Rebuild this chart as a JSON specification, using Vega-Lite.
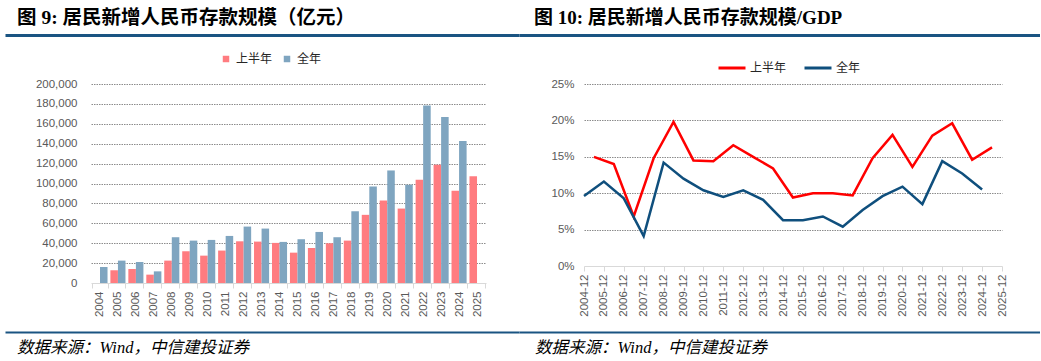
{
  "$schema": "https://vega.github.io/schema/vega-lite/v6.json",
  "padding": {"left": -1, "top": 7, "right": 0, "bottom": 0},
  "background": "white",
  "columns": 2,
  "align": "none",
  "spacing": {"row": 14, "column": 0},
  "resolve": {"scale": {"color": "independent", "x": "independent"}, "legend": {"color": "independent"}},
  "config": {
    "view": {"stroke": null},
    "font": "Liberation Sans",
    "axis": {"labelFont": "Liberation Sans", "labelFontSize": 11.5, "labelColor": "#595959"},
    "legend": {"labelFont": "Noto Sans CJK SC", "labelFontSize": 12, "labelColor": "#262626"}
  },
  "datasets": {
    "bars": [
      {"year": "2004", "series": "全年", "value": 16100},
      {"year": "2005", "series": "上半年", "value": 12800},
      {"year": "2005", "series": "全年", "value": 22500},
      {"year": "2006", "series": "上半年", "value": 14100},
      {"year": "2006", "series": "全年", "value": 21100},
      {"year": "2007", "series": "上半年", "value": 8400},
      {"year": "2007", "series": "全年", "value": 11700},
      {"year": "2008", "series": "上半年", "value": 22500},
      {"year": "2008", "series": "全年", "value": 46000},
      {"year": "2009", "series": "上半年", "value": 31900},
      {"year": "2009", "series": "全年", "value": 42600},
      {"year": "2010", "series": "上半年", "value": 27500},
      {"year": "2010", "series": "全年", "value": 43300},
      {"year": "2011", "series": "上半年", "value": 32600},
      {"year": "2011", "series": "全年", "value": 47300},
      {"year": "2012", "series": "上半年", "value": 41900},
      {"year": "2012", "series": "全年", "value": 56700},
      {"year": "2013", "series": "上半年", "value": 41600},
      {"year": "2013", "series": "全年", "value": 54700},
      {"year": "2014", "series": "上半年", "value": 40300},
      {"year": "2014", "series": "全年", "value": 41300},
      {"year": "2015", "series": "上半年", "value": 30500},
      {"year": "2015", "series": "全年", "value": 44000},
      {"year": "2016", "series": "上半年", "value": 35200},
      {"year": "2016", "series": "全年", "value": 51300},
      {"year": "2017", "series": "上半年", "value": 39900},
      {"year": "2017", "series": "全年", "value": 46000},
      {"year": "2018", "series": "上半年", "value": 42600},
      {"year": "2018", "series": "全年", "value": 72100},
      {"year": "2019", "series": "上半年", "value": 68500},
      {"year": "2019", "series": "全年", "value": 97000},
      {"year": "2020", "series": "上半年", "value": 82900},
      {"year": "2020", "series": "全年", "value": 113100},
      {"year": "2021", "series": "上半年", "value": 74800},
      {"year": "2021", "series": "全年", "value": 98700},
      {"year": "2022", "series": "上半年", "value": 103700},
      {"year": "2022", "series": "全年", "value": 178500},
      {"year": "2023", "series": "上半年", "value": 118800},
      {"year": "2023", "series": "全年", "value": 166800},
      {"year": "2024", "series": "上半年", "value": 92600},
      {"year": "2024", "series": "全年", "value": 142600},
      {"year": "2025", "series": "上半年", "value": 107400}
    ],
    "lines": [
      {"date": "2005-06-01", "series": "上半年", "value": 0.150},
      {"date": "2006-06-01", "series": "上半年", "value": 0.140},
      {"date": "2007-06-01", "series": "上半年", "value": 0.068},
      {"date": "2008-06-01", "series": "上半年", "value": 0.148},
      {"date": "2009-06-01", "series": "上半年", "value": 0.198},
      {"date": "2010-06-01", "series": "上半年", "value": 0.145},
      {"date": "2011-06-01", "series": "上半年", "value": 0.144},
      {"date": "2012-06-01", "series": "上半年", "value": 0.166},
      {"date": "2013-06-01", "series": "上半年", "value": 0.150},
      {"date": "2014-06-01", "series": "上半年", "value": 0.134},
      {"date": "2015-06-01", "series": "上半年", "value": 0.094},
      {"date": "2016-06-01", "series": "上半年", "value": 0.100},
      {"date": "2017-06-01", "series": "上半年", "value": 0.100},
      {"date": "2018-06-01", "series": "上半年", "value": 0.097},
      {"date": "2019-06-01", "series": "上半年", "value": 0.148},
      {"date": "2020-06-01", "series": "上半年", "value": 0.180},
      {"date": "2021-06-01", "series": "上半年", "value": 0.136},
      {"date": "2022-06-01", "series": "上半年", "value": 0.179},
      {"date": "2023-06-01", "series": "上半年", "value": 0.196},
      {"date": "2024-06-01", "series": "上半年", "value": 0.146},
      {"date": "2025-06-01", "series": "上半年", "value": 0.163},
      {"date": "2004-12-01", "series": "全年", "value": 0.096},
      {"date": "2005-12-01", "series": "全年", "value": 0.116},
      {"date": "2006-12-01", "series": "全年", "value": 0.093},
      {"date": "2007-12-01", "series": "全年", "value": 0.041},
      {"date": "2008-12-01", "series": "全年", "value": 0.142},
      {"date": "2009-12-01", "series": "全年", "value": 0.120},
      {"date": "2010-12-01", "series": "全年", "value": 0.104},
      {"date": "2011-12-01", "series": "全年", "value": 0.095},
      {"date": "2012-12-01", "series": "全年", "value": 0.104},
      {"date": "2013-12-01", "series": "全年", "value": 0.091},
      {"date": "2014-12-01", "series": "全年", "value": 0.063},
      {"date": "2015-12-01", "series": "全年", "value": 0.063},
      {"date": "2016-12-01", "series": "全年", "value": 0.068},
      {"date": "2017-12-01", "series": "全年", "value": 0.054},
      {"date": "2018-12-01", "series": "全年", "value": 0.077},
      {"date": "2019-12-01", "series": "全年", "value": 0.096},
      {"date": "2020-12-01", "series": "全年", "value": 0.109},
      {"date": "2021-12-01", "series": "全年", "value": 0.085},
      {"date": "2022-12-01", "series": "全年", "value": 0.144},
      {"date": "2023-12-01", "series": "全年", "value": 0.127},
      {"date": "2024-12-01", "series": "全年", "value": 0.105}
    ]
  },
  "concat": [
    {
      "width": 514, "height": 1,
      "title": {"text": "图 9: 居民新增人民币存款规模（亿元）", "anchor": "start", "dx": 12, "offset": -12, "baseline": "bottom", "font": "Liberation Serif, Noto Sans CJK SC", "fontSize": 19.5, "fontWeight": "bold", "color": "#000000"},
      "data": {"values": []},
      "mark": "point",
      "encoding": {
        "x": {"field": "v", "type": "quantitative", "scale": {"domain": [0, 1], "range": [0, 514]}, "axis": {"orient": "top", "title": null, "labels": false, "ticks": false, "grid": false, "domain": true, "domainColor": "#1A5482", "domainWidth": 3}}
      }
    },
    {
      "width": 521, "height": 1,
      "title": {"text": "图 10: 居民新增人民币存款规模/GDP", "anchor": "start", "dx": 15, "offset": -12, "baseline": "bottom", "font": "Liberation Serif, Noto Sans CJK SC", "fontSize": 19, "fontWeight": "bold", "color": "#000000"},
      "data": {"values": []},
      "mark": "point",
      "encoding": {
        "x": {"field": "v", "type": "quantitative", "scale": {"domain": [0, 1], "range": [0, 521]}, "axis": {"orient": "top", "title": null, "labels": false, "ticks": false, "grid": false, "domain": true, "domainColor": "#1A5482", "domainWidth": 3}}
      }
    },
    {
      "width": 481, "height": 199,
      "data": {"name": "bars"},
      "mark": {"type": "bar"},
      "encoding": {
        "x": {
          "field": "year", "type": "nominal",
          "scale": {"paddingInner": 0.16, "paddingOuter": 0.08, "range": [86, 481]},
          "axis": {"title": null, "labelAngle": -90, "tickBand": "extent", "ticks": true, "tickSize": 5, "tickColor": "#d9d9d9", "domainColor": "#d9d9d9", "labelPadding": 3, "minExtent": 34}
        },
        "xOffset": {"field": "series", "type": "nominal", "scale": {"domain": ["上半年", "全年"], "paddingInner": 0}},
        "y": {
          "field": "value", "type": "quantitative",
          "scale": {"domain": [0, 200000]},
          "axis": {"title": null, "offset": -86, "values": [0, 20000, 40000, 60000, 80000, 100000, 120000, 140000, 160000, 180000, 200000], "format": ",d", "domain": false, "ticks": false, "labelPadding": 14, "minExtent": 0, "maxExtent": 0, "grid": true, "gridDash": [1.5, 1], "gridColor": "#8c8c8c", "gridOpacity": {"condition": {"test": "datum.value === 0", "value": 0}, "value": 1}}
        },
        "color": {
          "field": "series", "type": "nominal",
          "scale": {"domain": ["上半年", "全年"], "range": ["#FF7C80", "#7FA5C0"]},
          "legend": {"title": null, "orient": "none", "direction": "horizontal", "legendX": 212, "legendY": -34, "padding": 3, "symbolType": "square", "symbolSize": 42, "symbolStrokeWidth": 0, "labelOffset": 4, "columnPadding": 8}
        }
      }
    },
    {
      "width": 418, "height": 182,
      "data": {"name": "lines"},
      "mark": {"type": "line", "strokeWidth": 2.5},
      "encoding": {
        "x": {
          "field": "date", "type": "temporal",
          "scale": {"type": "utc", "domain": [{"year": 2004, "month": 12, "date": 1, "utc": true}, {"year": 2025, "month": 12, "date": 1, "utc": true}]},
          "axis": {
            "title": null, "format": "%Y-%m", "labelAngle": -90, "ticks": true, "tickSize": 5, "tickColor": "#d9d9d9", "domainColor": "#d9d9d9", "labelPadding": 3, "grid": false, "minExtent": 51,
            "values": [
              {"year": 2004, "month": 12, "date": 1, "utc": true},
              {"year": 2005, "month": 12, "date": 1, "utc": true},
              {"year": 2006, "month": 12, "date": 1, "utc": true},
              {"year": 2007, "month": 12, "date": 1, "utc": true},
              {"year": 2008, "month": 12, "date": 1, "utc": true},
              {"year": 2009, "month": 12, "date": 1, "utc": true},
              {"year": 2010, "month": 12, "date": 1, "utc": true},
              {"year": 2011, "month": 12, "date": 1, "utc": true},
              {"year": 2012, "month": 12, "date": 1, "utc": true},
              {"year": 2013, "month": 12, "date": 1, "utc": true},
              {"year": 2014, "month": 12, "date": 1, "utc": true},
              {"year": 2015, "month": 12, "date": 1, "utc": true},
              {"year": 2016, "month": 12, "date": 1, "utc": true},
              {"year": 2017, "month": 12, "date": 1, "utc": true},
              {"year": 2018, "month": 12, "date": 1, "utc": true},
              {"year": 2019, "month": 12, "date": 1, "utc": true},
              {"year": 2020, "month": 12, "date": 1, "utc": true},
              {"year": 2021, "month": 12, "date": 1, "utc": true},
              {"year": 2022, "month": 12, "date": 1, "utc": true},
              {"year": 2023, "month": 12, "date": 1, "utc": true},
              {"year": 2024, "month": 12, "date": 1, "utc": true},
              {"year": 2025, "month": 12, "date": 1, "utc": true}
            ]
          }
        },
        "y": {
          "field": "value", "type": "quantitative",
          "scale": {"domain": [0, 0.25]},
          "axis": {"title": null, "values": [0, 0.05, 0.1, 0.15, 0.2, 0.25], "format": ".0%", "domain": false, "ticks": false, "labelPadding": 10, "minExtent": 65, "grid": true, "gridDash": [1.5, 1], "gridColor": "#8c8c8c", "gridOpacity": {"condition": {"test": "datum.value === 0", "value": 0}, "value": 1}}
        },
        "color": {
          "field": "series", "type": "nominal",
          "scale": {"domain": ["上半年", "全年"], "range": ["#FF0000", "#0F4F7D"]},
          "legend": {"title": null, "orient": "none", "direction": "horizontal", "legendX": 130, "legendY": -34, "padding": 3, "symbolType": "stroke", "symbolSize": 729, "symbolStrokeWidth": 3, "labelOffset": 3, "columnPadding": 11}
        }
      }
    },
    {
      "width": 514, "height": 1,
      "title": {"text": "数据来源：Wind，中信建投证券", "orient": "bottom", "anchor": "start", "dx": 12, "offset": 8, "baseline": "top", "font": "Liberation Serif, Noto Sans CJK SC", "fontSize": 16.5, "fontStyle": "italic", "fontWeight": "normal", "color": "#000000"},
      "data": {"values": []},
      "mark": "point",
      "encoding": {
        "x": {"field": "v", "type": "quantitative", "scale": {"domain": [0, 1], "range": [0, 514]}, "axis": {"orient": "bottom", "title": null, "labels": false, "ticks": false, "grid": false, "domain": true, "domainColor": "#1A5482", "domainWidth": 2}}
      }
    },
    {
      "width": 521, "height": 1,
      "title": {"text": "数据来源：Wind，中信建投证券", "orient": "bottom", "anchor": "start", "dx": 16, "offset": 8, "baseline": "top", "font": "Liberation Serif, Noto Sans CJK SC", "fontSize": 16.5, "fontStyle": "italic", "fontWeight": "normal", "color": "#000000"},
      "data": {"values": []},
      "mark": "point",
      "encoding": {
        "x": {"field": "v", "type": "quantitative", "scale": {"domain": [0, 1], "range": [0, 521]}, "axis": {"orient": "bottom", "title": null, "labels": false, "ticks": false, "grid": false, "domain": true, "domainColor": "#1A5482", "domainWidth": 2}}
      }
    }
  ]
}
